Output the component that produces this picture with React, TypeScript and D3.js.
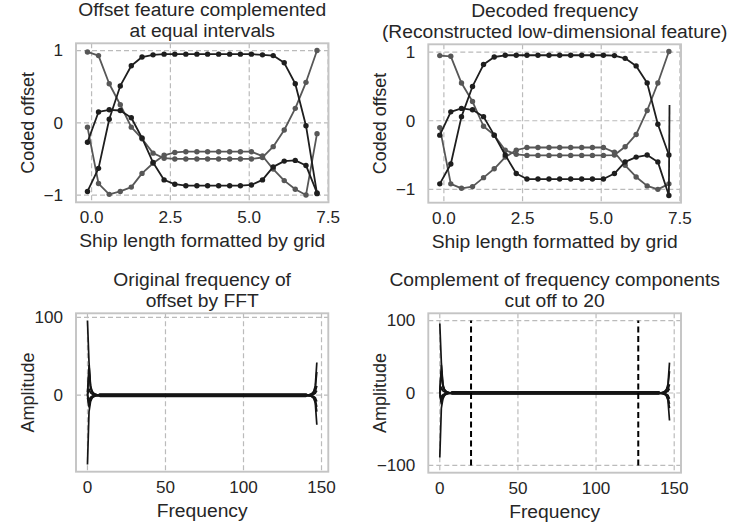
import React from 'react';
import * as d3 from 'd3';

// ---------- data ----------
const shipX = [-0.13, 0.22, 0.56, 0.91, 1.26, 1.6, 1.95, 2.3, 2.64, 2.99, 3.34, 3.68, 4.03, 4.38, 4.72, 5.07, 5.42, 5.76, 6.11, 6.46, 6.8, 7.15];

const offsetA = [-0.95, -0.63, 0.05, 0.51, 0.79, 0.91, 0.94, 0.95, 0.95, 0.95, 0.95, 0.95, 0.95, 0.95, 0.95, 0.95, 0.94, 0.93, 0.83, 0.54, -0.04, -0.98];
const offsetB = [0.98, 0.93, 0.54, 0.25, -0.06, -0.22, -0.42, -0.49, -0.5, -0.5, -0.5, -0.5, -0.5, -0.5, -0.5, -0.5, -0.48, -0.33, -0.1, 0.2, 0.56, 1.0];
const offsetC = [-0.06, -0.84, -0.99, -0.95, -0.89, -0.7, -0.56, -0.45, -0.41, -0.4, -0.4, -0.4, -0.4, -0.4, -0.4, -0.4, -0.46, -0.64, -0.8, -0.92, -1.0, -0.15];
const offsetD = [-0.27, 0.15, 0.18, 0.17, 0.07, -0.21, -0.55, -0.79, -0.85, -0.87, -0.87, -0.87, -0.87, -0.87, -0.87, -0.86, -0.79, -0.61, -0.53, -0.52, -0.59, -0.97];

const decodedA = [-0.92, -0.63, 0.06, 0.5, 0.82, 0.93, 0.955, 0.955, 0.955, 0.955, 0.955, 0.955, 0.955, 0.955, 0.955, 0.955, 0.95, 0.91, 0.8, 0.55, -0.05, -0.5];
const decodedB = [0.95, 0.94, 0.55, 0.28, -0.08, -0.21, -0.43, -0.49, -0.505, -0.505, -0.505, -0.505, -0.505, -0.505, -0.505, -0.505, -0.5, -0.38, -0.2, 0.15, 0.55, 1.01];
const decodedC = [-0.1, -0.92, -0.985, -0.96, -0.83, -0.7, -0.53, -0.43, -0.39, -0.39, -0.39, -0.39, -0.39, -0.39, -0.39, -0.39, -0.46, -0.65, -0.82, -0.95, -1.0, -0.92];
const decodedD = [-0.21, 0.13, 0.18, 0.16, 0.06, -0.21, -0.5, -0.77, -0.85, -0.85, -0.85, -0.85, -0.85, -0.85, -0.85, -0.85, -0.77, -0.6, -0.53, -0.5, -0.6, -1.09];
const decodedSpikeX = [7.15, 7.17];
const decodedSpikeY = [-1.09, 0.23];

// spectrum: values at k = 0..7 (head), k = 141..147 (tail), and the small residual level in between
const specLength = 148;
const specRe1Head = [96, 42, 12, 5, 2.5, 1.2, 0.6, 0.3];
const specRe1Tail = [0.3, 0.6, 1.2, 2.5, 5, 12, 42];
const specRe2Head = [-89, -21, -8, -3.5, -1.8, -0.9, -0.4, -0.2];
const specRe2Tail = [-0.2, -0.4, -0.9, -1.8, -3.5, -8, -21];
const specRe3Head = [4, 30, 9, 4, 2, 1, 0.5, 0.2];
const specRe3Tail = [0.2, 0.5, 1, 2, 4, 9, 30];
const specRe4Head = [-3, -15, -6, -3, -1.5, -0.8, -0.4, -0.2];
const specRe4Tail = [-0.2, -0.4, -0.8, -1.5, -3, -6, -15];
const specIm1Head = [0, 38, 10, 4, 2, 1, 0.5, 0.2];
const specIm1Tail = [-0.2, -0.5, -1, -2, -4, -10, -38];
const specIm2Head = [0, -12, -4, -2, -1, -0.5, -0.3, -0.1];
const specIm2Tail = [0.1, 0.3, 0.5, 1, 2, 4, 12];
const specIm3Head = [0, 8, 3, 1.5, 0.8, 0.4, 0.2, 0.1];
const specIm3Tail = [-0.1, -0.2, -0.4, -0.8, -1.5, -3, -8];
const specIm4Head = [0, -6, -2.5, -1.2, -0.6, -0.3, -0.2, -0.1];
const specIm4Tail = [0.1, 0.2, 0.3, 0.6, 1.2, 2.5, 6];
const specMidLevels = [1.6, -1.4, 0.9, -0.9, 0.5, -0.4, 0.2, -0.2];
const cutoffFreqs = [20, 127];
const cutoffRange = [-100, 100];

const shipTicks = [0, 2.5, 5, 7.5];
const offsetTicks = [-1, 0, 1];
const freqTicks = [0, 50, 100, 150];
const ampTicksLeft = [0, 100];
const ampTicksRight = [-100, 0, 100];

// ---------- styles ----------
const FONT = "'Liberation Sans', Arial, Helvetica, sans-serif";
const SX = 1.07;
const TITLE_SIZE = 18;
const TICK_SIZE = 16;
const LINE_GAP = 21.3;
const TEXT_COLOR = '#262626';
const GRID_COLOR = '#bbbbbb';
const FRAME_COLOR = '#c4c4c4';

type Box = { left: number; right: number; top: number; bottom: number };
type Series = { x: number[]; y: number[]; color: string; width: number; markers?: boolean; dash?: string; opacity?: number };

function T({ x, y, children, anchor = 'middle', size = TITLE_SIZE, rotate = false }: any) {
  const tr = rotate ? `translate(${x},${y}) scale(${SX},1) rotate(-90)` : `translate(${x},${y}) scale(${SX},1)`;
  return (
    <text transform={tr} textAnchor={anchor} fontFamily={FONT} fontSize={size} fill={TEXT_COLOR}>
      {children}
    </text>
  );
}

function padded(ext: [number, number]): [number, number] {
  const m = (ext[1] - ext[0]) * 0.05;
  return [ext[0] - m, ext[1] + m];
}

function Panel({ box, series, xTicks, xFmt, yTicks, yFmt, title, xLabel, yLabel }: {
  box: Box; series: Series[]; xTicks: number[]; xFmt: (v: number) => string; yTicks: number[]; yFmt: (v: number) => string;
  title: string[]; xLabel: string; yLabel: string;
}) {
  const allX = series.flatMap((s) => s.x);
  const allY = series.flatMap((s) => s.y);
  const x = d3.scaleLinear().domain(padded(d3.extent(allX) as [number, number])).range([box.left, box.right]);
  const y = d3.scaleLinear().domain(padded(d3.extent(allY) as [number, number])).range([box.bottom, box.top]);
  const cx = (box.left + box.right) / 2;
  const cy = (box.top + box.bottom) / 2;
  const line = d3.line<[number, number]>().x((d) => x(d[0])).y((d) => y(d[1]));
  const xs = xTicks.filter((t) => x(t) >= box.left - 0.5 && x(t) <= box.right + 0.5);
  const ys = yTicks.filter((t) => y(t) >= box.top - 0.5 && y(t) <= box.bottom + 0.5);
  return (
    <g>
      {xs.map((t) => (
        <line key={'gx' + t} x1={x(t)} x2={x(t)} y1={box.top} y2={box.bottom} stroke={GRID_COLOR} strokeWidth={1.2} strokeDasharray="5,3" />
      ))}
      {ys.map((t) => (
        <line key={'gy' + t} x1={box.left} x2={box.right} y1={y(t)} y2={y(t)} stroke={GRID_COLOR} strokeWidth={1.2} strokeDasharray="5,3" />
      ))}
      {series.map((s, i) => {
        const pts = s.x.map((v, j) => [v, s.y[j]] as [number, number]);
        return (
          <g key={'s' + i} opacity={s.opacity ?? 1}>
            <path d={line(pts) || ''} fill="none" stroke={s.color} strokeWidth={s.width} strokeDasharray={s.dash} strokeLinejoin="round" />
            {s.markers && pts.map((p, j) => <circle key={j} cx={x(p[0])} cy={y(p[1])} r={2.7} fill={s.color} />)}
          </g>
        );
      })}
      <rect x={box.left} y={box.top} width={box.right - box.left} height={box.bottom - box.top} fill="none" stroke={FRAME_COLOR} strokeWidth={1.9} />
      {xs.map((t) => (
        <T key={'tx' + t} x={x(t)} y={box.bottom + 21} size={TICK_SIZE}>{xFmt(t)}</T>
      ))}
      {ys.map((t) => (
        <T key={'ty' + t} x={box.left - 13} y={y(t) + 5.8} size={TICK_SIZE} anchor="end">{yFmt(t)}</T>
      ))}
      {title.map((tl, i) => (
        <T key={'tt' + i} x={cx} y={box.top - 6.5 - (title.length - 1 - i) * LINE_GAP}>{tl}</T>
      ))}
      <T x={cx} y={box.bottom + 45}>{xLabel}</T>
      <T x={box.left - 42} y={cy} rotate>{yLabel}</T>
    </g>
  );
}

const minusFmt = (v: number) => (v < 0 ? '\u2212' + Math.abs(v) : String(v));
const fixed1 = (v: number) => (v < 0 ? '\u2212' : '') + Math.abs(v).toFixed(1);

const DARK = '#1e1e1e';
const GREY = '#575757';

function spectrum(head: number[], tail: number[], mid: number) {
  return d3.range(specLength).map((k) =>
    k < head.length ? head[k] : k >= specLength - tail.length ? tail[k - (specLength - tail.length)] : mid
  );
}

export default function App() {
  const freqs = d3.range(specLength);
  const specs = [
    spectrum(specRe1Head, specRe1Tail, specMidLevels[0]),
    spectrum(specRe2Head, specRe2Tail, specMidLevels[1]),
    spectrum(specRe3Head, specRe3Tail, specMidLevels[2]),
    spectrum(specRe4Head, specRe4Tail, specMidLevels[3]),
    spectrum(specIm1Head, specIm1Tail, specMidLevels[4]),
    spectrum(specIm2Head, specIm2Tail, specMidLevels[5]),
    spectrum(specIm3Head, specIm3Tail, specMidLevels[6]),
    spectrum(specIm4Head, specIm4Tail, specMidLevels[7]),
  ];
  const specSeries: Series[] = specs.map((s) => ({ x: freqs, y: s, color: '#151515', width: 1.7 }));

  const topLeft: Series[] = [
    { x: shipX, y: offsetB, color: GREY, width: 1.8, markers: true },
    { x: shipX, y: offsetC, color: GREY, width: 1.8, markers: true },
    { x: shipX, y: offsetA, color: DARK, width: 1.8, markers: true },
    { x: shipX, y: offsetD, color: DARK, width: 1.8, markers: true },
  ];
  const topRight: Series[] = [
    { x: shipX, y: decodedB, color: GREY, width: 1.8, markers: true },
    { x: shipX, y: decodedC, color: GREY, width: 1.8, markers: true },
    { x: shipX, y: decodedA, color: DARK, width: 1.8, markers: true },
    { x: shipX, y: decodedD, color: DARK, width: 1.8, markers: true },
    { x: decodedSpikeX, y: decodedSpikeY, color: DARK, width: 1.8 },
  ];
  const bottomRight: Series[] = [
    ...specSeries,
    ...cutoffFreqs.map((f) => ({ x: [f, f], y: cutoffRange, color: '#000000', width: 2, dash: '6,3.5' })),
  ];

  return (
    <svg width={731} height={532} style={{ position: 'absolute', left: 0, top: 0, background: '#ffffff' }}>
      <rect width={731} height={532} fill="#ffffff" />
      <Panel
        box={{ left: 76, right: 328.5, top: 43.3, bottom: 202.3 }}
        series={topLeft}
        xTicks={shipTicks} xFmt={fixed1} yTicks={offsetTicks} yFmt={minusFmt}
        title={['Offset feature complemented', 'at equal intervals']}
        xLabel="Ship length formatted by grid" yLabel="Coded offset"
      />
      <Panel
        box={{ left: 428.3, right: 681, top: 44.3, bottom: 202.7 }}
        series={topRight}
        xTicks={shipTicks} xFmt={fixed1} yTicks={offsetTicks} yFmt={minusFmt}
        title={['Decoded frequency', '(Reconstructed low-dimensional feature)']}
        xLabel="Ship length formatted by grid" yLabel="Coded offset"
      />
      <Panel
        box={{ left: 76, right: 328.3, top: 313.3, bottom: 471.7 }}
        series={specSeries}
        xTicks={freqTicks} xFmt={minusFmt} yTicks={ampTicksLeft} yFmt={minusFmt}
        title={['Original frequency of', 'offset by FFT']}
        xLabel="Frequency" yLabel="Amplitude"
      />
      <Panel
        box={{ left: 428.3, right: 681, top: 313.3, bottom: 472.7 }}
        series={bottomRight}
        xTicks={freqTicks} xFmt={minusFmt} yTicks={ampTicksRight} yFmt={minusFmt}
        title={['Complement of frequency components', 'cut off to 20']}
        xLabel="Frequency" yLabel="Amplitude"
      />
    </svg>
  );
}
